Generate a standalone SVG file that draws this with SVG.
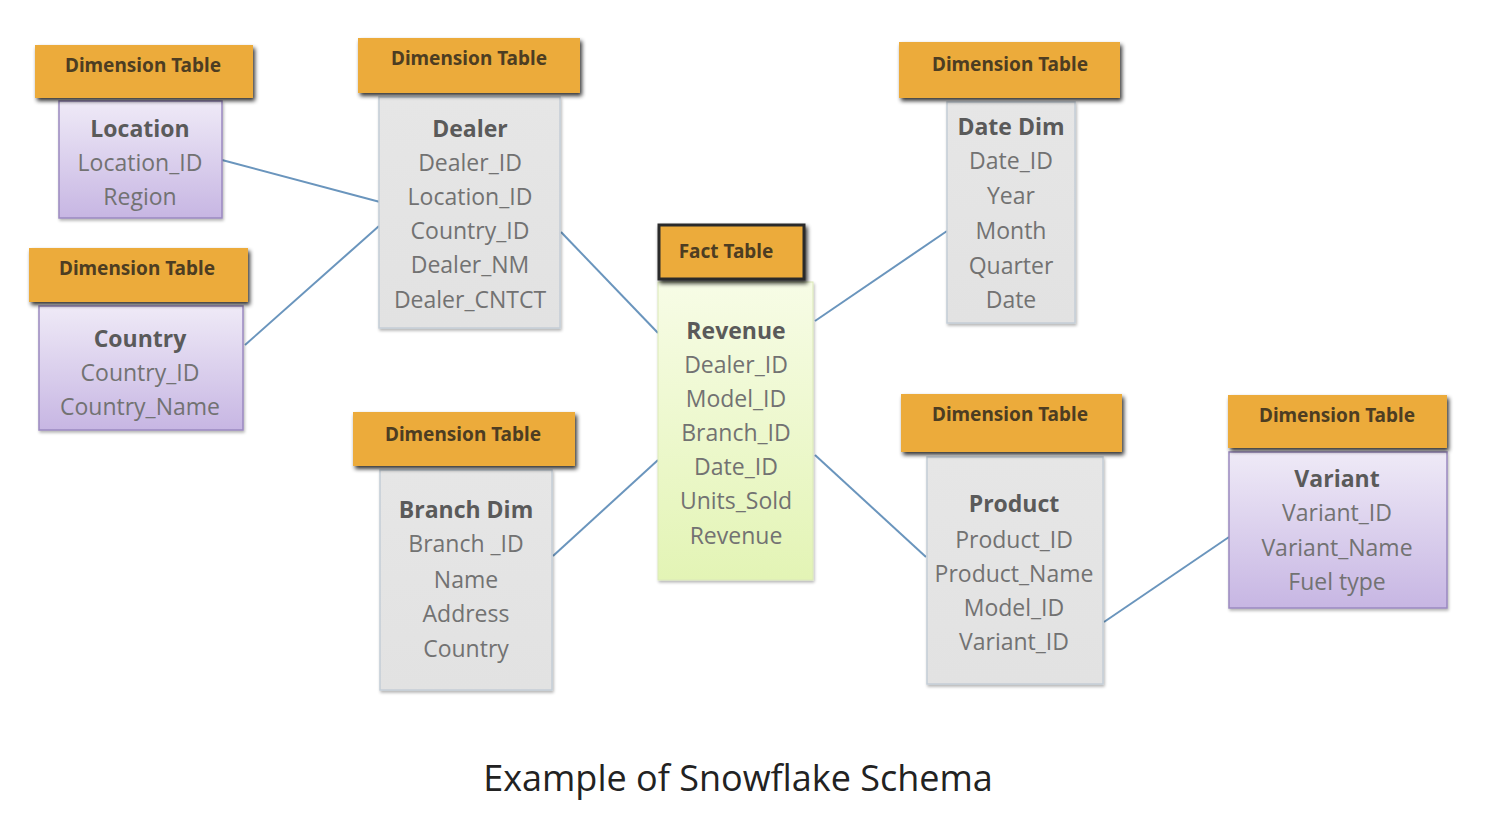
<svg xmlns="http://www.w3.org/2000/svg" width="1492" height="838" viewBox="0 0 1492 838">
<defs>
<linearGradient id="gPurple" x1="0" y1="0" x2="0" y2="1"><stop offset="0" stop-color="#efeaf7"/><stop offset="1" stop-color="#c7b6e3"/></linearGradient>
<linearGradient id="gGray" x1="0" y1="0" x2="0" y2="1"><stop offset="0" stop-color="#e6e6e6"/><stop offset="1" stop-color="#e2e2e2"/></linearGradient>
<linearGradient id="gGreen" x1="0" y1="0" x2="0" y2="1"><stop offset="0" stop-color="#f7fce6"/><stop offset="1" stop-color="#e3f4b5"/></linearGradient>
<filter id="sh" x="-10%" y="-10%" width="130%" height="140%"><feGaussianBlur in="SourceAlpha" stdDeviation="2"/><feOffset dx="2" dy="3"/><feComponentTransfer><feFuncA type="linear" slope="0.8"/></feComponentTransfer><feMerge><feMergeNode/><feMergeNode in="SourceGraphic"/></feMerge></filter>
<filter id="sh2" x="-10%" y="-10%" width="130%" height="140%"><feGaussianBlur in="SourceAlpha" stdDeviation="1.5"/><feOffset dx="1" dy="2"/><feComponentTransfer><feFuncA type="linear" slope="0.3"/></feComponentTransfer><feMerge><feMergeNode/><feMergeNode in="SourceGraphic"/></feMerge></filter>
</defs>
<style>
.hdr{fill:#ecab3b;filter:url(#sh)}
.hdrt{font-family:"Noto Sans",sans-serif;font-size:19px;font-weight:bold;fill:#4d3d22;text-anchor:middle}
.purple{fill:url(#gPurple);stroke:#9a89c0;stroke-width:1.5;filter:url(#sh2)}
.gray{fill:url(#gGray);stroke:#c4cdd6;stroke-width:1.5;filter:url(#sh2)}
.green{fill:url(#gGreen);stroke:#dbe9b8;stroke-width:1;filter:url(#sh2)}
.ttl{font-family:"Open Sans","Noto Sans",sans-serif;font-size:23px;font-weight:bold;fill:#5a5a5a;text-anchor:middle}
.fld{font-family:"Open Sans","Noto Sans",sans-serif;font-size:23px;fill:#727272;text-anchor:middle}
.con{stroke:#6a95bd;stroke-width:2;fill:none}
.cap{font-family:"Open Sans","Noto Sans",sans-serif;font-size:36px;fill:#222;text-anchor:middle}
</style>
<rect width="1492" height="838" fill="#fff"/>
<g id="connectors">
<line class="con" x1="222" y1="160" x2="380" y2="202"/>
<line class="con" x1="245" y1="345" x2="379" y2="226"/>
<line class="con" x1="561" y1="232" x2="658" y2="333"/>
<line class="con" x1="815" y1="321" x2="947" y2="231"/>
<line class="con" x1="553" y1="556" x2="658" y2="460"/>
<line class="con" x1="815" y1="455" x2="926" y2="557"/>
<line class="con" x1="1104" y1="622" x2="1229" y2="537"/>
</g>
<g id="location">
<rect class="purple" x="59" y="101" width="163" height="117"/>
<rect class="hdr" x="35" y="45" width="218" height="53"/>
<text class="hdrt" x="143" y="72">Dimension Table</text>
<text class="ttl" x="140" y="137">Location</text>
<text class="fld" x="140" y="171">Location_ID</text>
<text class="fld" x="140" y="205">Region</text>
</g>
<g id="dealer">
<rect class="gray" x="379" y="97" width="181" height="231"/>
<rect class="hdr" x="358" y="38" width="222" height="55"/>
<text class="hdrt" x="469" y="65">Dimension Table</text>
<text class="ttl" x="470" y="137">Dealer</text>
<text class="fld" x="470" y="171">Dealer_ID</text>
<text class="fld" x="470" y="205">Location_ID</text>
<text class="fld" x="470" y="239">Country_ID</text>
<text class="fld" x="470" y="273">Dealer_NM</text>
<text class="fld" x="470" y="308">Dealer_CNTCT</text>
</g>
<g id="country">
<rect class="purple" x="39" y="306" width="204" height="124"/>
<rect class="hdr" x="29" y="248" width="219" height="54"/>
<text class="hdrt" x="137" y="275">Dimension Table</text>
<text class="ttl" x="140" y="347">Country</text>
<text class="fld" x="140" y="381">Country_ID</text>
<text class="fld" x="140" y="415">Country_Name</text>
</g>
<g id="fact">
<rect class="green" x="658" y="282" width="155" height="298"/>
<rect x="659" y="225" width="145" height="54" fill="#ecab3b" stroke="#2b2b2b" stroke-width="3" style="filter:url(#sh)"/>
<text class="hdrt" x="726" y="258">Fact Table</text>
<text class="ttl" x="736" y="339">Revenue</text>
<text class="fld" x="736" y="373">Dealer_ID</text>
<text class="fld" x="736" y="407">Model_ID</text>
<text class="fld" x="736" y="441">Branch_ID</text>
<text class="fld" x="736" y="475">Date_ID</text>
<text class="fld" x="736" y="509">Units_Sold</text>
<text class="fld" x="736" y="544">Revenue</text>
</g>
<g id="datedim">
<rect class="gray" x="947" y="102" width="128" height="221"/>
<rect class="hdr" x="899" y="42" width="221" height="56"/>
<text class="hdrt" x="1010" y="71">Dimension Table</text>
<text class="ttl" x="1011" y="135">Date Dim</text>
<text class="fld" x="1011" y="169">Date_ID</text>
<text class="fld" x="1011" y="204">Year</text>
<text class="fld" x="1011" y="239">Month</text>
<text class="fld" x="1011" y="274">Quarter</text>
<text class="fld" x="1011" y="308">Date</text>
</g>
<g id="branch">
<rect class="gray" x="380" y="470" width="172" height="220"/>
<rect class="hdr" x="353" y="412" width="222" height="54"/>
<text class="hdrt" x="463" y="441">Dimension Table</text>
<text class="ttl" x="466" y="518">Branch Dim</text>
<text class="fld" x="466" y="552">Branch _ID</text>
<text class="fld" x="466" y="588">Name</text>
<text class="fld" x="466" y="622">Address</text>
<text class="fld" x="466" y="657">Country</text>
</g>
<g id="product">
<rect class="gray" x="927" y="457" width="176" height="227"/>
<rect class="hdr" x="901" y="394" width="221" height="58"/>
<text class="hdrt" x="1010" y="421">Dimension Table</text>
<text class="ttl" x="1014" y="512">Product</text>
<text class="fld" x="1014" y="548">Product_ID</text>
<text class="fld" x="1014" y="582">Product_Name</text>
<text class="fld" x="1014" y="616">Model_ID</text>
<text class="fld" x="1014" y="650">Variant_ID</text>
</g>
<g id="variant">
<rect class="purple" x="1229" y="452" width="218" height="156"/>
<rect class="hdr" x="1228" y="395" width="219" height="53"/>
<text class="hdrt" x="1337" y="422">Dimension Table</text>
<text class="ttl" x="1337" y="487">Variant</text>
<text class="fld" x="1337" y="521">Variant_ID</text>
<text class="fld" x="1337" y="556">Variant_Name</text>
<text class="fld" x="1337" y="590">Fuel type</text>
</g>
<text class="cap" x="738" y="791">Example of Snowflake Schema</text>
</svg>
